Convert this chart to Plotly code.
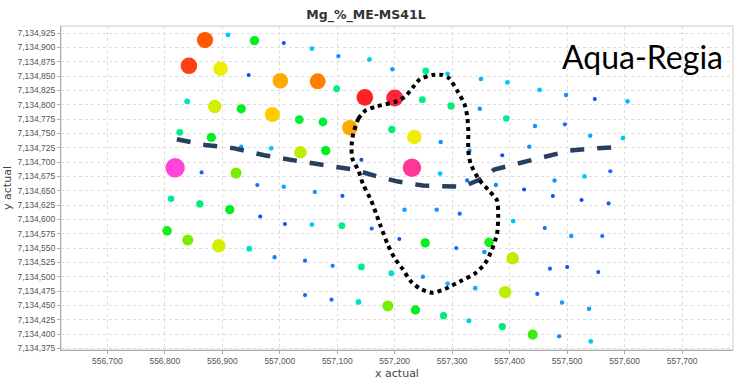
import numpy as np
import plotly.graph_objects as go

# ---- sample data (easting, northing, Mg %) ----
easting = [556870, 556910, 556956, 557007, 557056, 557102, 557156, 557196, 557254, 557292,
           557350, 557396, 557452, 557498, 557548, 557605,
           556842, 556897, 556946, 557001, 557066, 557099, 557148, 557200, 557248, 557298,
           557348, 557394, 557444, 557496, 557540, 557597,
           556839, 556887, 556933, 556987, 557034, 557075, 557122, 557195, 557234, 557280,
           557330, 557387, 557434,
           556826, 556881, 556933, 556985, 557036, 557080, 557142,
           556818, 556864, 556924, 557230, 557279, 557326, 557376, 557425, 557478, 557530,
           557575, 557475, 557525, 557572,
           556961, 557007, 557061, 557109, 557217, 557273, 557313, 557406, 557461, 557507, 557561,
           556811, 556861, 556913, 556966, 557009, 557056, 557108, 557160, 557208, 557253,
           557307, 557356, 557364, 557405, 557470, 557500, 557554,
           556804, 556840, 556894, 556947, 556991, 557044, 557092, 557142, 557194, 557249,
           557292, 557340, 557392, 557448, 557491, 557538,
           557044, 557090, 557137, 557188, 557236, 557285, 557329, 557387, 557440, 557486, 557541]
northing = [7134913, 7134922, 7134912, 7134908, 7134898, 7134885, 7134879, 7134862, 7134859, 7134854,
            7134845, 7134839, 7134826, 7134817, 7134810, 7134806,
            7134868, 7134863, 7134852, 7134842, 7134841, 7134828, 7134813, 7134812, 7134809, 7134798,
            7134793, 7134776, 7134763, 7134766, 7134746, 7134742,
            7134806, 7134797, 7134793, 7134783, 7134774, 7134770, 7134760, 7134757, 7134744, 7134735,
            7134720, 7134712, 7134727,
            7134752, 7134743, 7134727, 7134724, 7134717, 7134720, 7134704,
            7134690, 7134682, 7134681, 7134690, 7134680, 7134668, 7134660, 7134652, 7134668, 7134675,
            7134684, 7134641, 7134634, 7134628,
            7134660, 7134657, 7134648, 7134641, 7134617, 7134617, 7134610, 7134597, 7134585, 7134571, 7134571,
            7134636, 7134627, 7134617, 7134605, 7134592, 7134591, 7134589, 7134584, 7134566, 7134559,
            7134550, 7134543, 7134560, 7134532, 7134514, 7134517, 7134508,
            7134580, 7134564, 7134554, 7134549, 7134534, 7134528, 7134519, 7134517, 7134506, 7134500,
            7134488, 7134480, 7134473, 7134470, 7134455, 7134444,
            7134468, 7134460, 7134456, 7134449, 7134442, 7134432, 7134423, 7134413, 7134399, 7134396, 7134387]
mg_pct = [1.5, 0.5, 0.8, 0.3, 0.5, 0.4, 0.5, 0.42, 0.7, 0.5,
          0.45, 0.5, 0.5, 0.4, 0.3, 0.47,
          1.55, 1.1, 0.3, 1.3, 1.4, 0.7, 1.6, 1.65, 0.7, 0.72,
          0.4, 0.68, 0.4, 0.35, 0.45, 0.5,
          0.6, 1.05, 0.8, 1.2, 0.78, 0.78, 1.3, 0.72, 1.1, 0.4,
          0.4, 0.3, 0.4,
          0.7, 0.8, 0.42, 0.5, 1.0, 0.8, 0.3,
          2.0, 0.35, 0.9, 1.85, 0.5, 0.35, 0.38, 0.3, 0.4, 0.5,
          0.35, 0.3, 0.3, 0.33,
          0.35, 0.45, 0.4, 0.33, 0.42, 0.4, 0.35, 0.48, 0.35, 0.42, 0.35,
          0.68, 0.72, 0.8, 0.3, 0.3, 0.5, 0.7, 0.35, 0.3, 0.8,
          0.35, 0.4, 0.82, 1.0, 0.33, 0.3, 0.33,
          0.82, 0.9, 1.05, 0.6, 0.38, 0.35, 0.38, 0.7, 0.6, 0.4,
          0.47, 0.47, 1.0, 0.35, 0.42, 0.42,
          0.35, 0.35, 0.6, 0.9, 0.8, 0.72, 0.52, 0.72, 0.85, 0.38, 0.5]

# dashed boundary line
dash_e = [556821, 556870, 556921, 556973, 557025, 557076, 557128, 557176, 557206, 557249,
          557318, 557347, 557373, 557404, 557456, 557504, 557550, 557597]
dash_n = [7134740, 7134730, 7134724, 7134712, 7134703, 7134695, 7134687, 7134673, 7134666, 7134659,
          7134657, 7134669, 7134687, 7134695, 7134707, 7134720, 7134724, 7134727]

# dotted closed outline
dot_e = [557128, 557137, 557149, 557168, 557200, 557218, 557232, 557244, 557266, 557283, 557295,
         557309, 557321, 557326, 557328, 557328, 557332, 557347, 557364, 557378, 557380, 557378,
         557369, 557357, 557340, 557314, 557288, 557266, 557244, 557228, 557214, 557200, 557188,
         557176, 557168, 557159, 557145, 557137, 557126, 557125, 557128]
dot_n = [7134750, 7134776, 7134790, 7134797, 7134805, 7134814, 7134831, 7134845, 7134852, 7134852, 7134846,
         7134824, 7134802, 7134781, 7134754, 7134719, 7134697, 7134669, 7134650, 7134633, 7134604, 7134575,
         7134547, 7134523, 7134506, 7134492, 7134479, 7134472, 7134479, 7134492, 7134513, 7134532, 7134556,
         7134587, 7134609, 7134633, 7134661, 7134685, 7134707, 7134730, 7134750]

x_ticks = list(range(556700, 557701, 100))
y_ticks = list(range(7134375, 7134926, 25))

# ---- styling ----
cmin, cmax = 0.3, 2.0
stops = [(0.3, '#1048ff'), (0.4, '#1590ff'), (0.5, '#00c8ff'), (0.6, '#00e0cc'),
         (0.7, '#00ee88'), (0.8, '#00ee22'), (0.9, '#77ee00'), (1.0, '#bbee00'),
         (1.1, '#eeee00'), (1.2, '#ffcc00'), (1.3, '#ffaa00'), (1.4, '#ff8000'),
         (1.5, '#ff5a00'), (1.6, '#ff2222'), (1.8, '#ff3080'), (2.0, '#ff44dd')]
colorscale = [[(v - cmin) / (cmax - cmin), c] for v, c in stops]
sizes = np.interp(mg_pct, [0.3, 0.5, 0.7, 0.8, 0.9, 1.0, 1.1, 1.3, 1.6, 2.0],
                  [4, 4.8, 6.8, 9.3, 11, 12.5, 14.5, 15.5, 16.7, 19.5])

fig = go.Figure()
fig.add_trace(go.Scatter(
    x=easting, y=northing, mode='markers',
    marker=dict(color=mg_pct, colorscale=colorscale, cmin=cmin, cmax=cmax, opacity=1,
                size=sizes, line=dict(width=0), showscale=False),
    hoverinfo='x+y+text', text=[f'{v}' for v in mg_pct], showlegend=False))
fig.add_trace(go.Scatter(
    x=dash_e, y=dash_n, mode='lines',
    line=dict(color='#27405f', width=4.5, dash='14px,13px'), showlegend=False))
fig.add_trace(go.Scatter(
    x=dot_e, y=dot_n, mode='lines',
    line=dict(color='#000000', width=4, dash='dot', shape='spline', smoothing=0.6), showlegend=False))

axis_common = dict(showgrid=True, gridcolor='#dddddd', griddash='dot', gridwidth=1,
                   zeroline=False, showline=True, linecolor='#aaaaaa', linewidth=1,
                   ticks='outside', ticklen=3, tickcolor='#aaaaaa',
                   tickfont=dict(family='Liberation Sans, Arial, sans-serif', size=8.5, color='#555555'))

fig.update_layout(
    width=740, height=385,
    margin=dict(l=55, r=7, t=26, b=30),
    paper_bgcolor='white', plot_bgcolor='white',
    title=dict(text='<b>Mg_%_ME-MS41L</b>', x=366 / 740, xanchor='center', y=1 - 15 / 385, yanchor='middle',
               font=dict(family='DejaVu Sans, sans-serif', size=12.5, color='#333333')),
    xaxis=dict(range=[556619.5, 557788.4], tickvals=x_ticks,
               ticktext=[f'{v:,}' for v in x_ticks],
               title=dict(text='x actual', standoff=4,
                          font=dict(family='DejaVu Sans, sans-serif', size=11, color='#444444')),
               **axis_common),
    yaxis=dict(range=[7134372.1, 7134937.5], tickvals=y_ticks,
               ticktext=[f'{v:,}' for v in y_ticks],
               title=dict(text='y actual', standoff=3,
                          font=dict(family='DejaVu Sans, sans-serif', size=11, color='#444444')),
               **axis_common),
    shapes=[dict(type='rect', xref='paper', yref='paper', x0=0, y0=0, x1=1, y1=1,
                 line=dict(color='#dddddd', width=1.5), layer='below')],
    annotations=[dict(text='Aqua-Regia', xref='paper', yref='paper',
                      x=(642 - 55) / 678, y=(355 - 57) / 329, xanchor='center', yanchor='middle',
                      showarrow=False,
                      font=dict(family='Lato, Open Sans, sans-serif', size=32, color='#000000'))],
)

fig.write_html('out.html', config={'displayModeBar': False},
               post_script="document.body.style.margin='0';")
